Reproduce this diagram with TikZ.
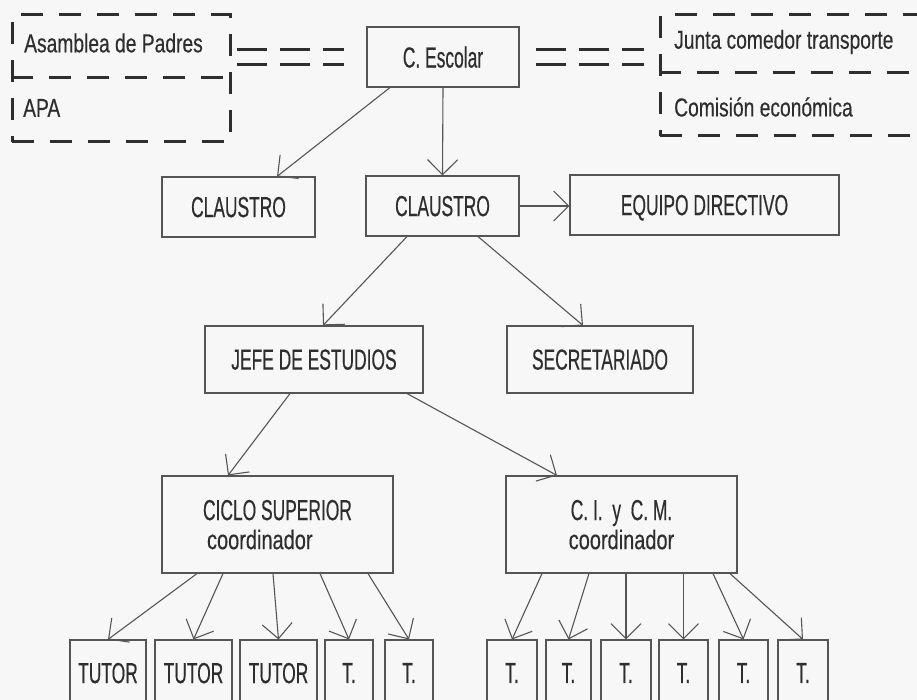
\documentclass[tikz,border=0pt]{standalone}
\usepackage{fontspec}
\setmainfont{Liberation Sans}[FakeStretch=0.6,FakeBold=0.4]
\newfontfamily\widefont{Liberation Sans}[FakeStretch=0.74,FakeBold=0.4]
\usetikzlibrary{arrows.meta, positioning}
\definecolor{inkgray}{HTML}{2E2E2E}
\definecolor{linegray}{HTML}{555555}
\definecolor{paper}{HTML}{F7F7F7}
\tikzset{
        >={Straight Barb[length=15pt,width=30pt]}, % open v-shaped heads
        every node/.style={text=inkgray},
    }
\tikzstyle{box}=[draw=linegray,line width=1.1pt,rectangle,inner sep=0pt,text depth=0pt,
                 font=\fontsize{29pt}{32pt}\selectfont]
\tikzstyle{dashbox}=[draw=inkgray,line width=3pt,dash pattern=on 22pt off 16pt,
                     rectangle,inner sep=0pt]
\tikzstyle{dbl}=[draw=inkgray,line width=3pt,double=paper,double distance=12pt,
                 dash pattern=on 30pt off 13pt]
\tikzstyle{link}=[->,draw=linegray,line width=1.1pt]
\tikzstyle{small}=[anchor=west,inner sep=0pt,font=\widefont\fontsize{26pt}{30pt}\selectfont]

\begin{document}
\begin{tikzpicture}[x=1pt,y=-1pt]
    \useasboundingbox (0,0) rectangle (917,700);
    \clip (0,0) rectangle (917,700);
    \fill[paper] (0,0) rectangle (917,700);

    % dashed groups on top
    \node[dashbox,minimum width=218pt,minimum height=127pt] (padres) at (121,78.5) {};
    \draw[dashbox] (padres.west |- 0,78) -- (padres.east |- 0,78);
    \node[small] (asamblea) at (24,43) {Asamblea de Padres};
    \node[small] (apa) at (23,108) {APA};

    \node[dashbox,minimum width=300pt,minimum height=121pt] (junta) at (810,75.5) {};
    \draw[dashbox] (junta.west |- 0,73) -- (junta.east |- 0,73);
    \node[small] (comedor) at (674,42) {Junta comedor transporte};
    \node[small] (comision) at (674,107) {Comisión económica};

    % main boxes
    \node[box,minimum width=152pt,minimum height=60pt] (esc) at (443,57) {C. Escolar};
    \node[box,minimum width=153pt,minimum height=60pt] (claustroa) at (238.5,207) {CLAUSTRO};
    \node[box,minimum width=153pt,minimum height=60pt] (claustro) at (442.5,206) {CLAUSTRO};
    \node[box,minimum width=269pt,minimum height=60pt] (equipo) at (704.5,205) {EQUIPO DIRECTIVO};
    \node[box,minimum width=218pt,minimum height=67pt] (jefe) at (314,359.5) {JEFE DE ESTUDIOS};
    \node[box,minimum width=186pt,minimum height=67pt] (secre) at (600,359.5) {SECRETARIADO};
    \node[box,minimum width=231pt,minimum height=97pt,align=left] (ciclo) at (277.5,524.5)
        {CICLO SUPERIOR\\[-3pt]\hspace*{4pt}{\widefont\fontsize{27pt}{30pt}\selectfont coordinador}};
    \node[box,minimum width=231pt,minimum height=97pt,align=center] (cicm) at (621.5,524.5)
        {C.\,I.\ \ y\ \ C.\,M.\\[-3pt]{\widefont\fontsize{27pt}{30pt}\selectfont coordinador}};

    % tutors
    \foreach \n/\x/\w/\t in {ta/108/76/TUTOR, tb/193.5/77/TUTOR, tc/278.5/77/TUTOR,
                             td/349/48/T., te/409/48/T.,
                             tf/512/50/T., tg/568.5/45/T., th/626/50/T.,
                             ti/683.5/49/T., tj/743.5/49/T., tk/803/50/T.}
        \node[box,minimum width=\w pt,minimum height=66pt] (\n) at (\x,673) {\t};

    % links
    \draw[dbl,shorten <=5pt,shorten >=22pt] (padres.east |- esc.west) -- (esc.west);
    \draw[dbl,shorten <=16pt,shorten >=15pt] (esc.east) -- (junta.west |- esc.east);

    \draw[link] ([xshift=-53pt]esc.south) -- ([xshift=38.5pt]claustroa.north);
    \draw[link] (esc.south) -- (claustro.north);
    \draw[link] (claustro.east) -- (equipo.west |- claustro.east);
    \draw[link] ([xshift=-35.5pt]claustro.south) -- ([xshift=9pt]jefe.north);
    \draw[link] ([xshift=35.5pt]claustro.south) -- ([xshift=-17pt]secre.north);
    \draw[link] ([xshift=-24pt]jefe.south) -- ([xshift=-49.5pt]ciclo.north);
    \draw[link] ([xshift=93pt]jefe.south) -- ([xshift=-64.5pt]cicm.north);

    \foreach \n/\dx in {ta/-80.5, tb/-54.5, tc/-4.5, td/42.5, te/90.5}
        \draw[link] ([xshift=\dx pt]ciclo.south) -- (\n.north);
    \foreach \n/\dx in {tf/-79.5, tg/-32.5, th/4.5, ti/62, tj/91.5, tk/108.5}
        \draw[link] ([xshift=\dx pt]cicm.south) -- (\n.north);
\end{tikzpicture}
\end{document}
